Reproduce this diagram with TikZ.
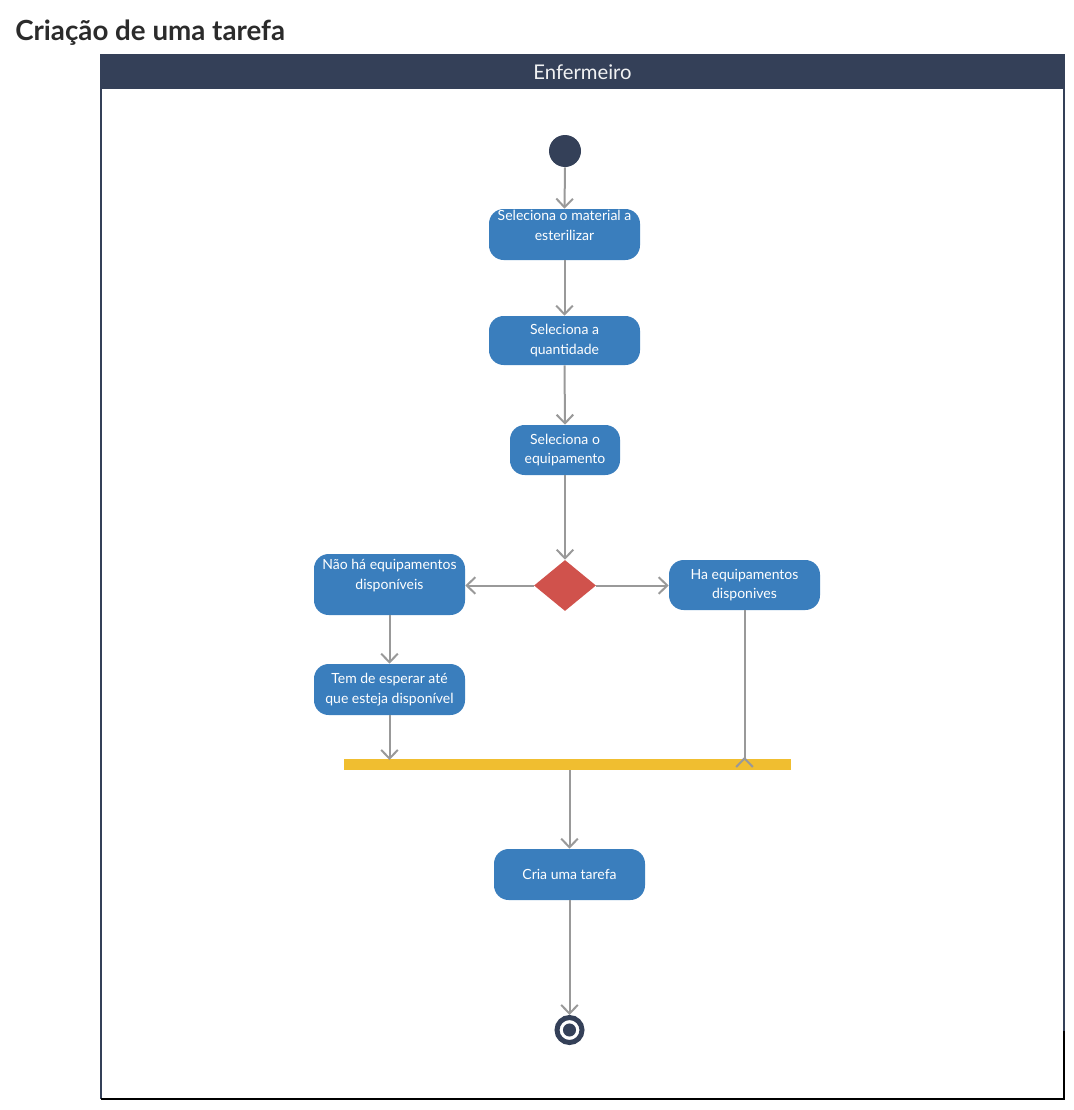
\documentclass[tikz,border=0pt]{standalone}
\usepackage{fontspec}
\setmainfont{Lato}
\usetikzlibrary{arrows.meta,shapes.geometric}
\definecolor{navy}{HTML}{344058}
\definecolor{actblue}{HTML}{3A7EBD}
\definecolor{decred}{HTML}{D0524C}
\definecolor{baryel}{HTML}{F0BE30}
\definecolor{conngray}{HTML}{999999}
\definecolor{titlegray}{HTML}{2B2B2B}
\begin{document}
\begin{tikzpicture}[x=0.75pt,y=-0.75pt,
  act/.style={rectangle, rounded corners=11pt, fill=actblue, text=white,
    font=\fontsize{10.5}{14.5}\selectfont, align=center, inner sep=0pt,
    minimum width=113.25pt, minimum height=38.25pt},
  acttext/.style={text=white, font=\fontsize{10.5}{14.5}\selectfont, align=center, inner sep=0pt},
  conn/.style={draw=conngray, line width=1.5pt, -{Straight Barb[length=6.5pt,width=12.5pt]}},
  plain/.style={draw=conngray, line width=1.5pt}
]
\useasboundingbox (0,0) rectangle (1074,1110);

% title
\node[anchor=base west, inner sep=0pt, text=titlegray,
  font=\bfseries\fontsize{20.8}{24}\selectfont] (title) at (15,40) {Criação de uma tarefa};

% swimlane
\fill[navy] (101,55) rectangle (1064,89);
\node[text=white!93!navy, font=\fontsize{15.2}{17}\selectfont, inner sep=0pt] (lane) at (582.5,72.5) {Enfermeiro};
\draw[navy, line width=1.5pt] (1064,1031) -- (1064,55) -- (101,55) -- (101,1099);
\draw[black, line width=1.5pt] (101,1099) -- (1064,1099) -- (1064,1031);

% nodes
\node[circle, fill=navy, inner sep=0pt, minimum size=24pt] (start) at (565,151) {};

\node[act] (a1) at (564.5,234.5) {};
\node[acttext] (a1t) at (564.5,225.5) {Seleciona o material a\\esterilizar};

\node[act, minimum height=36.75pt] (a2) at (564.5,340.5) {Seleciona a\\quantidade};

\node[act, minimum width=82.5pt, minimum height=37.5pt] (a3) at (565,450) {Seleciona o\\equipamento};

\node[diamond, fill=decred, inner sep=0pt, minimum width=46.5pt, minimum height=38.25pt] (dec) at (565,585.5) {};

\node[act, minimum height=45.75pt] (no) at (389.5,584.5) {};
\node[acttext] (not) at (389.5,575.5) {Não há equipamentos\\disponíveis};

\node[act, minimum height=37.5pt] (ha) at (744.5,585) {Ha equipamentos\\disponives};

\node[act] (tem) at (389.5,689.5) {Tem de esperar até\\que esteja disponível};

\node[rectangle, fill=baryel, inner sep=0pt, minimum width=335.25pt, minimum height=8.25pt] (bar) at (567.5,764.5) {};

\node[act] (cria) at (569.5,874.5) {Cria uma tarefa};

\node[circle, draw=navy, line width=3.75pt, fill=white, inner sep=0pt, minimum size=18.75pt,
  path picture={\fill[navy] (path picture bounding box.center) circle (4.9pt);}] (end) at (569.5,1030) {};

% connectors
\draw[conn] (start.south) -- (a1.north);
\draw[conn] (a1.south) -- (a2.north);
\draw[conn] (a2.south) -- (a3.north);
\draw[conn] (a3.south) -- (dec.north);
\draw[conn] (dec.west) -- (dec.west -| no.east);
\draw[conn] (dec.east) -- (dec.east -| ha.west);
\draw[conn] (no.south) -- (tem.north);
\coordinate (barL) at (389.5,760);
\draw[conn] (tem.south) -- (barL);
\coordinate (barR) at (744.5,768);
\draw[plain, -{Straight Barb[length=6.5pt,width=12.5pt,reversed]}] (ha.south) -- (barR);
\coordinate (barC) at (569.5,770);
\draw[conn] (barC) -- (cria.north);
\draw[conn] (cria.south) -- (end.north);
\end{tikzpicture}
\end{document}
